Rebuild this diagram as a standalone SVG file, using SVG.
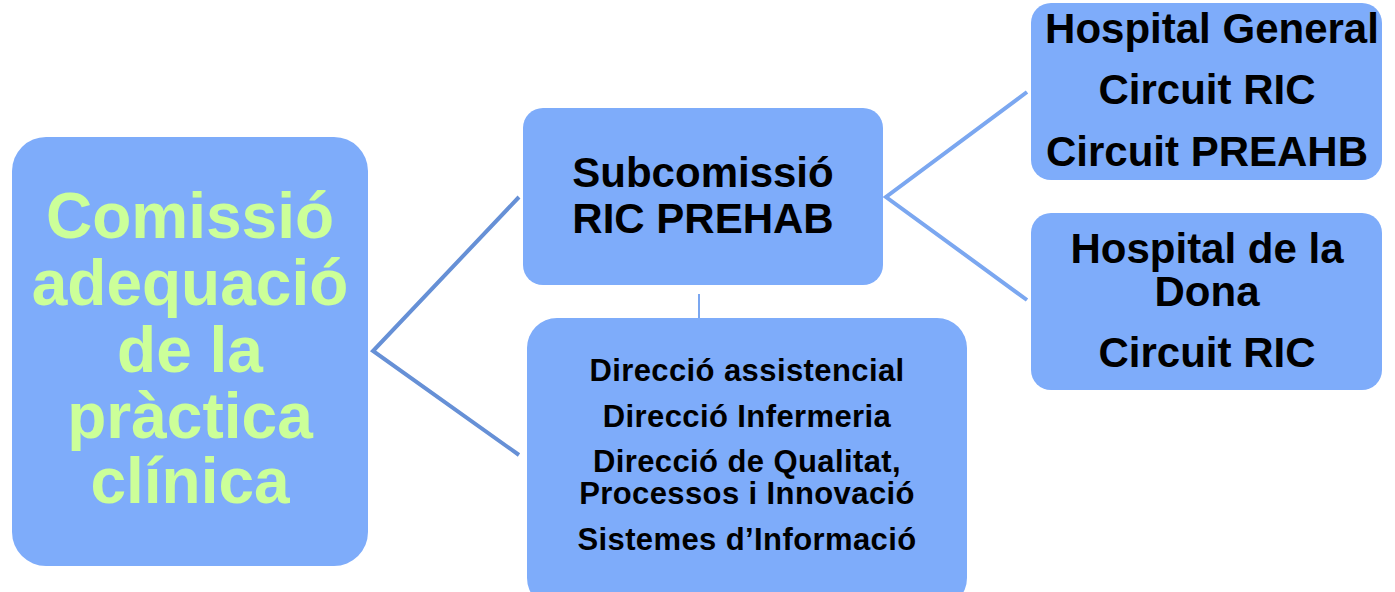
<svg xmlns="http://www.w3.org/2000/svg" width="1395" height="592" viewBox="0 0 1395 592">
<style>
.box{fill:#7EACFA;}
.t{font-family:"Liberation Sans",Arial,sans-serif;font-weight:bold;text-anchor:middle;fill:#000;}
.g{fill:#CCFF99;}
.d{font-size:31px;letter-spacing:0.4px;}
.h{font-size:42px;}
.c1{stroke:#6690D6;stroke-width:4;fill:none;}
.c2{stroke:#7BA7F0;stroke-width:4;fill:none;}
.c3{stroke:#7BA7F0;stroke-width:2;fill:none;}
</style>
<rect width="1395" height="592" fill="#fff"/>
<g id="connectors">
<polyline class="c1" points="519,197 373,351 519,455"/>
<polyline class="c2" points="1027,92 886,197 1027,300"/>
<line class="c3" x1="699" y1="294" x2="699" y2="326"/>
</g>
<g id="comissio">
<rect class="box" x="12" y="137" width="356" height="429" rx="34"/>
<text class="t g" font-size="64" x="190" y="238">Comissió</text>
<text class="t g" font-size="64" x="190" y="305">adequació</text>
<text class="t g" font-size="64" x="190" y="372">de la</text>
<text class="t g" font-size="64" x="190" y="438">pràctica</text>
<text class="t g" font-size="64" x="190" y="503">clínica</text>
</g>
<g id="subcomissio">
<rect class="box" x="523" y="108" width="360" height="177" rx="20"/>
<text class="t" font-size="42" x="703" y="187">Subcomissió</text>
<text class="t" font-size="42" x="703" y="233">RIC PREHAB</text>
</g>
<g id="direccions">
<rect class="box" x="527" y="318" width="440" height="290" rx="30"/>
<text class="t d" x="747" y="381">Direcció assistencial</text>
<text class="t d" x="747" y="427">Direcció Infermeria</text>
<text class="t d" x="747" y="472">Direcció de Qualitat,</text>
<text class="t d" x="747" y="504">Processos i Innovació</text>
<text class="t d" x="747" y="550">Sistemes d’Informació</text>
</g>
<g id="hospital-general">
<rect class="box" x="1031" y="3" width="351" height="177" rx="20"/>
<text class="t h" x="1212" y="43">Hospital General</text>
<text class="t h" x="1207" y="104">Circuit RIC</text>
<text class="t h" x="1207" y="166">Circuit PREAHB</text>
</g>
<g id="hospital-dona">
<rect class="box" x="1031" y="213" width="351" height="177" rx="20"/>
<text class="t h" x="1207" y="263">Hospital de la</text>
<text class="t h" x="1207" y="306">Dona</text>
<text class="t h" x="1207" y="367">Circuit RIC</text>
</g>
</svg>
